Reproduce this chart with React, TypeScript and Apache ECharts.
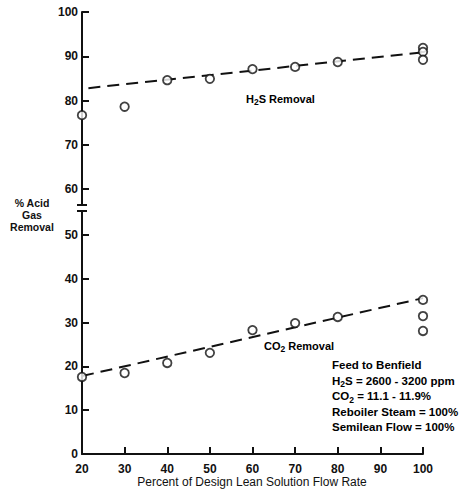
import React, { useEffect, useRef } from "react";
import * as echarts from "echarts";

const xTicks = [20, 30, 40, 50, 60, 70, 80, 90, 100];
const topYTicks = [60, 70, 80, 90, 100];
const h2sPoints: [number, number][] = [
  [20, 76.7], [30, 78.6], [40, 84.6], [50, 84.9], [60, 87.1],
  [70, 87.6], [80, 88.7], [100, 91.9], [100, 91.0], [100, 89.2],
];
const h2sFit: [number, number][] = [[21.5, 82.8], [100, 90.9]];
const co2Points: [number, number][] = [
  [20, 17.6], [30, 18.5], [40, 20.8], [50, 23.1], [60, 28.3],
  [70, 29.9], [80, 31.3], [100, 35.2], [100, 31.5], [100, 28.1],
];
const co2Fit: [number, number][] = [[20, 17.8], [100, 35.6]];
const feedLines = [
  "Feed to Benfield",
  "H2S = 2600 - 3200 ppm",
  "CO2 = 11.1 - 11.9%",
  "Reboiler Steam = 100%",
  "Semilean Flow = 100%",
];
const yNameLines = ["% Acid", "Gas", "Removal"];

const FONT = "Liberation Sans, Arial, sans-serif";
const INK = "#111";

export default function App() {
  const ref = useRef<HTMLDivElement>(null);
  useEffect(() => {
    document.body.style.margin = "0";
    const chart = echarts.init(ref.current!, undefined, { renderer: "svg" });
    const axisLabel = { color: INK, fontFamily: FONT, fontSize: 12, fontWeight: "bold" as const };
    const richBase = {
      a: { fontFamily: FONT, fontSize: 11, fontWeight: "bold" as const, color: INK },
      s: { fontFamily: FONT, fontSize: 8.5, fontWeight: "bold" as const, color: INK, verticalAlign: "bottom" as const, padding: [7, 0, 0, 0] },
    };
    const sub = (t: string) => "{a|" + t.replace(/([HO])2/, "$1}{s|2}{a|") + "}";
    const scatterStyle = {
      type: "scatter" as const,
      symbol: "circle",
      symbolSize: 8.5,
      clip: false,
      z: 5,
      itemStyle: { color: "#fff", borderColor: INK, borderWidth: 1.8 },
    };
    const fitStyle = {
      type: "line" as const,
      symbol: "none",
      z: 3,
      lineStyle: { color: INK, width: 2, type: [12, 7] as number[] },
    };
    const breakMark = (y: number) => ({
      type: "line", shape: { x1: 77, y1: y, x2: 87, y2: y },
      style: { stroke: INK, lineWidth: 2 },
    });
    chart.setOption({
      animation: false,
      grid: [
        { left: 82, right: 40, top: 12, height: 193 },
        { left: 82, right: 40, top: 211, height: 243 },
      ],
      xAxis: [
        { gridIndex: 0, type: "value", min: 20, max: 100, show: false },
        {
          gridIndex: 1, type: "value", min: 20, max: 100, interval: 10,
          axisLine: { show: true, lineStyle: { color: INK, width: 2 } },
          axisTick: { show: true, inside: true, length: 7, lineStyle: { color: INK, width: 2 } },
          axisLabel: { ...axisLabel, margin: 9, formatter: (v: number) => (xTicks.includes(v) ? String(v) : "") },
          splitLine: { show: false },
        },
      ],
      yAxis: [
        {
          gridIndex: 0, type: "value", min: 56.4, max: 100,
          axisLine: { show: true, lineStyle: { color: INK, width: 2 } },
          axisTick: { show: true, inside: true, length: 7, lineStyle: { color: INK, width: 2 }, customValues: topYTicks },
          axisLabel: { ...axisLabel, margin: 4, customValues: topYTicks },
          splitLine: { show: false },
        },
        {
          gridIndex: 1, type: "value", min: 0, max: 55.5, interval: 10,
          axisLine: { show: true, lineStyle: { color: INK, width: 2 } },
          axisTick: { show: true, inside: true, length: 7, lineStyle: { color: INK, width: 2 } },
          axisLabel: { ...axisLabel, margin: 4, showMaxLabel: false },
          splitLine: { show: false },
        },
      ],
      graphic: [
        breakMark(205),
        breakMark(211),
        ...yNameLines.map((t, i) => ({
          type: "text", x: 32, y: 197 + i * 12,
          style: { text: t, align: "center", verticalAlign: "top", fill: INK, font: `bold 10.5px ${FONT}` },
        })),
        {
          type: "text", left: 246, top: 93,
          style: { text: sub("H2S Removal"), rich: richBase },
        },
        {
          type: "text", left: 264, top: 340,
          style: { text: sub("CO2 Removal"), rich: richBase },
        },
        ...feedLines.map((t, i) => ({
          type: "text", left: 332, top: 359 + i * 15.6,
          style: { text: sub(t), rich: { a: { ...richBase.a, fontSize: 11.5 }, s: richBase.s } },
        })),
        {
          type: "text", x: 252, y: 476,
          style: {
            text: "Percent of Design Lean Solution Flow Rate", fill: INK,
            font: `12px ${FONT}`, align: "center", verticalAlign: "top",
          },
        },
      ],
      series: [
        { ...fitStyle, xAxisIndex: 0, yAxisIndex: 0, data: h2sFit },
        { ...scatterStyle, xAxisIndex: 0, yAxisIndex: 0, data: h2sPoints },
        { ...fitStyle, xAxisIndex: 1, yAxisIndex: 1, data: co2Fit },
        { ...scatterStyle, xAxisIndex: 1, yAxisIndex: 1, data: co2Points },
      ],
    });
    return () => chart.dispose();
  }, []);
  return <div ref={ref} style={{ width: 463, height: 491 }} />;
}
